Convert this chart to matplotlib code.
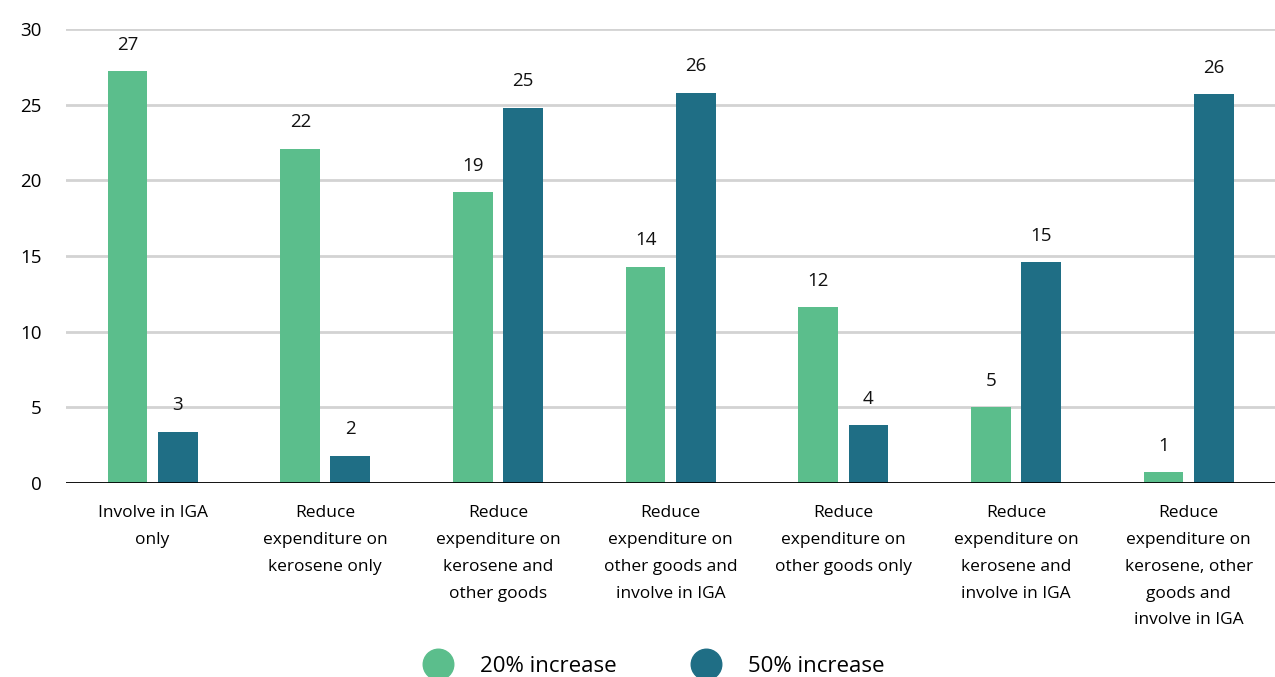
import numpy as np
import matplotlib.pyplot as plt
from matplotlib.lines import Line2D

plt.rcParams['font.family'] = ['Open Sans', 'DejaVu Sans']

# share of respondents per strategy, by size of price increase
categories = ['Involve in IGA\nonly',
              'Reduce\nexpenditure on\nkerosene only',
              'Reduce\nexpenditure on\nkerosene and\nother goods',
              'Reduce\nexpenditure on\nother goods and\ninvolve in IGA',
              'Reduce\nexpenditure on\nother goods only',
              'Reduce\nexpenditure on\nkerosene and\ninvolve in IGA',
              'Reduce\nexpenditure on\nkerosene, other\ngoods and\ninvolve in IGA']
increase_20 = [27.2, 22.1, 19.2, 14.3, 11.6, 5.0, 0.7]
increase_50 = [3.4, 1.8, 24.8, 25.8, 3.8, 14.6, 25.7]
series_names = ['20% increase', '50% increase']

green = '#5bbe8c'
blue = '#1f6e85'

fig = plt.figure(figsize=(12.75, 6.77), dpi=100)
ax = fig.add_axes([0.052, 0.2866, 0.948, 0.6705])

x = np.arange(len(categories))
w = 0.23
off = 0.145
b1 = ax.bar(x - off, increase_20, w, color=green, zorder=3)
b2 = ax.bar(x + off, increase_50, w, color=blue, zorder=3)

for bars, vals in [(b1, increase_20), (b2, increase_50)]:
    for rect, v in zip(bars, vals):
        ax.annotate('%d' % round(v), (rect.get_x() + rect.get_width() / 2, v),
                    xytext=(0, 19), textcoords='offset points',
                    ha='center', va='center', fontsize=13.5, color='#111111')

ax.set_xlim(-0.5, len(categories) - 0.5)
ax.set_ylim(0, 30)
ax.set_yticks(range(0, 31, 5))
ax.yaxis.grid(True, color='#d3d3d3', lw=2, zorder=0)
ax.axhline(0, color='black', lw=2, zorder=4)
for s in ax.spines.values():
    s.set_visible(False)

ax.set_xticks(x)
ax.set_xticklabels(categories, fontsize=12.5, linespacing=1.9, va='top')
ax.tick_params(axis='x', length=0, pad=16)
ax.tick_params(axis='y', length=0, pad=18, labelsize=13.5)

handles = [Line2D([], [], marker='o', ls='', ms=22, color=c) for c in (green, blue)]
fig.legend(handles, series_names, loc='center', bbox_to_anchor=(0.51, 0.016),
           ncol=2, frameon=False, fontsize=16, columnspacing=3.0,
           handletextpad=0.9)

fig.savefig('out.png', dpi=100)
